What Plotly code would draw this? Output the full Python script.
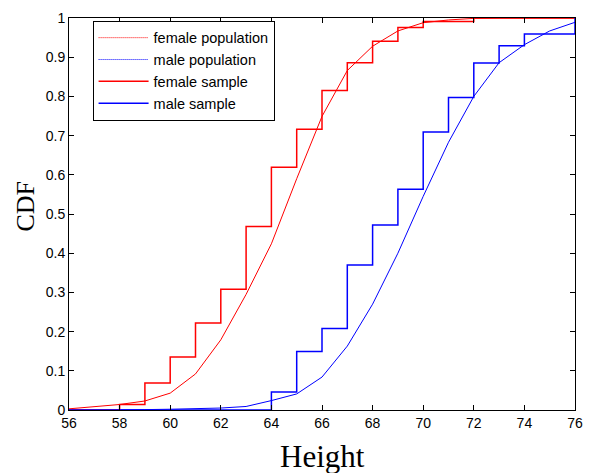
import plotly.graph_objects as go

heights = list(range(56, 77))

female_pop = [0.003, 0.008, 0.014, 0.023, 0.043, 0.092, 0.179, 0.295, 0.424, 0.590,
              0.749, 0.866, 0.928, 0.967, 0.988, 0.995, 0.999, 1.0, 1.0, 1.0, 1.0]
male_pop = [0.0, 0.0, 0.0005, 0.001, 0.002, 0.003, 0.005, 0.009, 0.024, 0.041,
            0.084, 0.163, 0.270, 0.400, 0.545, 0.683, 0.800, 0.886, 0.932, 0.967, 0.989]
female_sample = [0.0, 0.0, 0.014, 0.069, 0.135, 0.222, 0.308, 0.468, 0.619, 0.716,
                 0.815, 0.886, 0.941, 0.976, 0.991, 0.991, 1.0, 1.0, 1.0, 1.0, 1.0]
male_sample = [0.0, 0.0, 0.0, 0.0, 0.0, 0.0, 0.0, 0.0, 0.046, 0.149,
               0.208, 0.370, 0.472, 0.563, 0.709, 0.797, 0.885, 0.929, 0.959, 0.959, 1.0]

x_ticks = list(range(56, 77, 2))
y_ticks = [i / 10 for i in range(11)]
y_tick_labels = ["0", "0.1", "0.2", "0.3", "0.4", "0.5", "0.6", "0.7", "0.8", "0.9", "1"]

RED = "#ff0000"
BLUE = "#0000ff"
SANS = "Liberation Sans, Arial, Helvetica"
SERIF = "Liberation Serif, Times New Roman, serif"

fig = go.Figure()
fig.add_trace(go.Scatter(x=heights, y=female_pop, mode="lines", name="female population",
                         line=dict(color=RED, width=1), showlegend=False))
fig.add_trace(go.Scatter(x=heights, y=male_pop, mode="lines", name="male population",
                         line=dict(color=BLUE, width=1), showlegend=False))
fig.add_trace(go.Scatter(x=heights, y=female_sample, mode="lines", name="female sample",
                         line=dict(color=RED, width=1.5, shape="hv"), showlegend=False))
fig.add_trace(go.Scatter(x=heights, y=male_sample, mode="lines", name="male sample",
                         line=dict(color=BLUE, width=1.5, shape="hv"), showlegend=False))

# legend entries
legend_items = [
    ("female population", RED, 1, "1px,1px"),
    ("male population", BLUE, 1, "1px,1px"),
    ("female sample", RED, 1.5, "solid"),
    ("male sample", BLUE, 1.5, "solid"),
]
for nm, col, w, dash in legend_items:
    fig.add_trace(go.Scatter(x=[None], y=[None], mode="lines", name=nm,
                             line=dict(color=col, width=w, dash=dash)))

axis_common = dict(showgrid=False, zeroline=False, showline=True, linecolor="black",
                   linewidth=1, mirror="ticks", ticks="inside", ticklen=5,
                   tickcolor="black", tickfont=dict(family=SANS, size=14, color="black"))

fig.update_layout(
    width=593, height=473,
    margin=dict(l=69, r=15, t=10, b=63),
    paper_bgcolor="white", plot_bgcolor="white",
    xaxis=dict(range=[56, 76], tickvals=x_ticks, ticktext=[str(v) for v in x_ticks],
               **axis_common),
    yaxis=dict(range=[0, 1], tickvals=y_ticks, ticktext=y_tick_labels,
               **axis_common),
    legend=dict(x=0.0466, y=0.993, xanchor="left", yanchor="top",
                bgcolor="white", bordercolor="black", borderwidth=1,
                font=dict(family=SANS, size=14.5, color="black"),
                itemwidth=50),
    showlegend=True,
    annotations=[
        dict(text="Height", xref="paper", yref="paper", x=0.5, y=0, xanchor="center",
             yanchor="middle", yshift=-46, showarrow=False,
             font=dict(family=SERIF, size=31, color="black")),
        dict(text="CDF", xref="paper", yref="paper", x=0, y=0.519, xanchor="center",
             yanchor="middle", xshift=-43, textangle=-90, showarrow=False,
             font=dict(family=SERIF, size=26, color="black")),
    ],
)

fig.write_html("out.html", config={"displayModeBar": False},
               post_script="document.body.style.margin='0';")
